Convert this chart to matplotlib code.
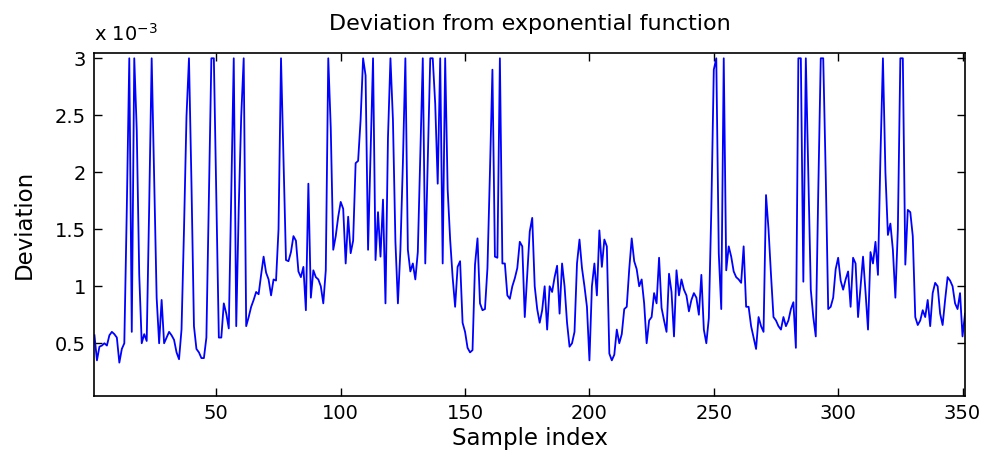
import numpy as np
import matplotlib
matplotlib.use("Agg")
import matplotlib.pyplot as plt

# Deviation values (units of 1e-3), samples 1..351
dev_a = [0.57, 0.35, 0.47, 0.48, 0.5, 0.48, 0.57, 0.6, 0.58, 0.55, 0.33, 0.45, 0.5, 1.68, 3.0, 0.6, 3.0, 2.37, 1.1, 0.5,
         0.58, 0.52, 1.7, 3.0, 1.96, 0.9, 0.5, 0.88]
dev_b = [0.5, 0.55, 0.6, 0.57, 0.53, 0.42, 0.36, 0.62, 1.5, 2.49, 3.0, 1.9, 0.65, 0.45, 0.42, 0.37, 0.37, 0.55, 1.8, 3.0,
         3.0, 1.8, 0.55, 0.55, 0.85, 0.76, 0.63, 1.8, 3.0, 0.65]
dev_c = [1.68, 2.49, 3.0, 0.65, 0.73, 0.82, 0.88, 0.95, 0.93, 1.1, 1.26, 1.12, 1.06, 0.92, 1.06, 1.05, 1.5, 3.0, 2.1, 1.23,
         1.22, 1.3, 1.44, 1.4, 1.13, 1.08, 1.17, 0.79, 1.9, 0.9]
dev_d = [1.14, 1.08, 1.06, 1.0, 0.85, 1.14, 3.0, 2.39, 1.32, 1.44, 1.61, 1.74, 1.68, 1.2, 1.61, 1.29, 1.4, 2.08, 2.1, 2.46,
         3.0, 2.85, 1.32, 2.17, 3.0, 1.23, 1.65, 1.26, 1.76]
dev_e = [0.85, 2.3, 3.0, 2.46, 1.39, 0.85, 1.32, 2.08, 3.0, 1.32, 1.13, 1.2, 1.06, 1.3, 2.14, 3.0, 1.2, 2.11, 3.0, 3.0,
         2.6, 1.9, 3.0, 1.2, 3.0, 1.85, 1.41, 1.08, 0.82, 1.17]
dev_f = [1.22, 0.68, 0.6, 0.46, 0.42, 0.44, 1.19, 1.42, 0.85, 0.79, 0.8, 1.16, 2.0, 2.9, 1.26, 1.25, 3.0, 1.2, 1.2, 0.92,
         0.89, 1.0, 1.07, 1.16, 1.39, 1.35, 0.73, 1.1, 1.48, 1.6]
dev_g = [1.0, 0.8, 0.68, 0.79, 1.0, 0.62, 1.0, 0.95, 1.08, 1.18, 0.76, 1.2, 1.0, 0.68, 0.47, 0.5, 0.6, 1.2, 1.41, 1.16,
         1.0, 0.82, 0.35, 1.0, 1.2, 0.92, 1.49, 1.17, 1.41, 1.35]
dev_h = [0.41, 0.35, 0.4, 0.62, 0.5, 0.58, 0.8, 0.82, 1.15, 1.42, 1.22, 1.15, 1.0, 1.06, 0.85, 0.5, 0.7, 0.73, 0.94, 0.85,
         1.25, 0.81, 0.7, 0.6, 1.11, 0.95, 0.56, 1.14, 0.92]
dev_i = [1.06, 0.97, 0.92, 0.78, 0.88, 0.94, 0.9, 0.75, 1.1, 0.62, 0.5, 0.72, 1.67, 2.9, 3.0, 1.29, 0.8, 3.0, 1.14, 1.35,
         1.26, 1.13, 1.08, 1.06, 1.03, 1.35, 0.82, 0.82, 0.65, 0.55]
dev_j = [0.45, 0.73, 0.65, 0.6, 1.8, 1.5, 1.1, 0.73, 0.7, 0.65, 0.62, 0.73, 0.65, 0.7, 0.8, 0.86, 0.46, 3.0, 3.0, 1.04,
         3.0, 1.98, 0.97, 0.73, 0.56, 1.83, 3.0, 3.0, 1.98, 0.8]
dev_k = [0.82, 0.9, 1.15, 1.25, 1.05, 0.97, 1.06, 1.13, 0.82, 1.25, 1.2, 0.73, 1.0, 1.26, 0.95, 0.62, 1.3, 1.2, 1.39, 1.1,
         2.14, 3.0, 2.0, 1.45, 1.55, 1.32, 0.9, 1.5, 3.0, 3.0]
dev_l = [1.19, 1.67, 1.65, 1.44, 0.73, 0.66, 0.7, 0.79, 0.73, 0.88, 0.65, 0.94, 1.03, 1.0, 0.76, 0.66, 0.88, 1.08, 1.05, 1.0,
         0.85, 0.8, 0.94, 0.56, 0.76]

deviation = np.array(dev_a + dev_b + dev_c + dev_d + dev_e + dev_f + dev_g + dev_h + dev_i + dev_j + dev_k + dev_l)
sample_index = np.arange(1, len(deviation) + 1)

x_ticks = [50, 100, 150, 200, 250, 300, 350]
y_ticks = [0.5, 1, 1.5, 2, 2.5, 3]
y_tick_labels = ["0.5", "1", "1.5", "2", "2.5", "3"]

plt.rcParams['font.family'] = ['DejaVu Sans']

fig = plt.figure(figsize=(9.84, 4.68), dpi=100)
ax = fig.add_axes([0.096, 0.154, 0.8847, 0.7334])
ax.plot(sample_index, deviation, color=(0, 0, 1), lw=1.3)
ax.set_xlim(1, 351)
ax.set_ylim(0.038, 3.049)
ax.set_xticks(x_ticks)
ax.set_xticklabels([str(t) for t in x_ticks])
ax.set_yticks(y_ticks)
ax.set_yticklabels(y_tick_labels)
ax.tick_params(direction='in', top=True, right=True, length=6, width=1, labelsize=14, pad=6)
for s in ax.spines.values():
    s.set_linewidth(1.2)
ax.set_title("Deviation from exponential function", fontsize=16, pad=16)
ax.set_xlabel("Sample index", fontsize=16.5, labelpad=3)
ax.set_ylabel("Deviation", fontsize=16.5, labelpad=14)
fig.text(0.096, 0.905, r"x 10$^{-3}$", fontsize=14, ha='left', va='bottom')

fig.savefig("out.png", dpi=100)
